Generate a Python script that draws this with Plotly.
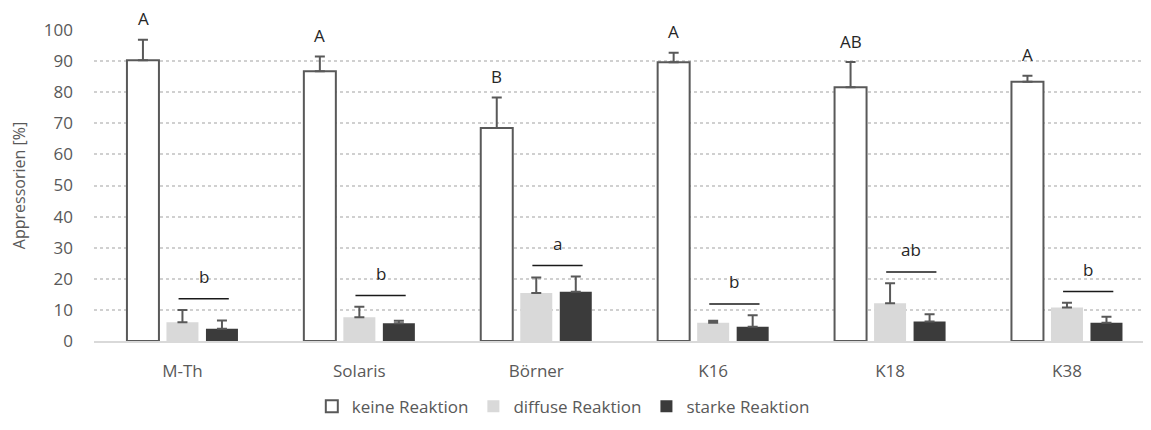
import plotly.graph_objects as go

categories = ["M-Th", "Solaris", "Börner", "K16", "K18", "K38"]
keine = [90.3, 86.7, 68.5, 89.6, 81.6, 83.4]
keine_err = [6.6, 4.8, 9.8, 3.1, 8.1, 1.9]
diffuse = [6.0, 7.6, 15.4, 5.9, 12.1, 10.8]
diffuse_err = [4.0, 3.4, 5.0, 0.6, 6.5, 1.5]
starke = [3.9, 5.7, 15.8, 4.6, 6.3, 5.9]
starke_err = [2.7, 0.8, 4.9, 3.7, 2.3, 1.9]
upper_letters = ["A", "A", "B", "A", "AB", "A"]
lower_letters = ["b", "b", "a", "b", "ab", "b"]
y_ticks = list(range(0, 101, 10))

FONT = "Open Sans"
GREY = "#595959"

fig = go.Figure()

def err(arr):
    return dict(type="data", array=arr, arrayminus=[0] * len(arr), symmetric=False,
                color=GREY, thickness=2, width=5)

fig.add_trace(go.Bar(name="keine Reaktion", x=categories, y=keine,
                     marker=dict(color="#ffffff", line=dict(color=GREY, width=2)),
                     error_y=err(keine_err)))
fig.add_trace(go.Bar(name="diffuse Reaktion", x=categories, y=diffuse,
                     marker=dict(color="#d9d9d9", line=dict(width=0)),
                     error_y=err(diffuse_err)))
fig.add_trace(go.Bar(name="starke Reaktion", x=categories, y=starke,
                     marker=dict(color="#3b3b3b", line=dict(width=0)),
                     error_y=err(starke_err)))

annotations = []
shapes = []
for i, cat in enumerate(categories):
    annotations.append(dict(x=i - 0.223, y=keine[i] + keine_err[i], xref="x", yref="y",
                            text=upper_letters[i], showarrow=False, yanchor="middle",
                            yshift=21, font=dict(family=FONT, size=17, color="#262626")))
    top = max(diffuse[i] + diffuse_err[i], starke[i] + starke_err[i])
    line_y = top + 3.6
    cx = i + 0.12
    shapes.append(dict(type="line", xref="x", yref="y", x0=cx - 0.142, x1=cx + 0.142,
                       y0=line_y, y1=line_y, line=dict(color="#1a1a1a", width=1.5)))
    annotations.append(dict(x=cx, y=line_y, xref="x", yref="y", text=lower_letters[i],
                            showarrow=False, yanchor="middle", yshift=22,
                            font=dict(family=FONT, size=17, color="#262626")))

fig.update_layout(
    width=1143, height=414,
    margin=dict(l=86, r=0, t=22, b=81, autoexpand=False),
    paper_bgcolor="white", plot_bgcolor="white",
    barmode="group", bargap=0.33, bargroupgap=0.19,
    font=dict(family=FONT, size=17, color=GREY),
    showlegend=True,
    legend=dict(orientation="h", x=0.444, xanchor="center", y=-0.153, yanchor="top",
                font=dict(family=FONT, size=17, color=GREY), traceorder="normal",
                itemwidth=30, tracegroupgap=0),
    annotations=annotations, shapes=shapes,
    xaxis=dict(range=[-0.5, 5.475], showgrid=False, showline=True, linecolor="#d9d9d9",
               linewidth=2, ticks="", tickfont=dict(family=FONT, size=17, color=GREY),
               ticklabelstandoff=14, fixedrange=True),
    yaxis=dict(range=[0, 100], tickvals=y_ticks, showgrid=True, gridcolor="#d0d0d0",
               griddash="dot", gridwidth=1.5, zeroline=False, showline=False, ticks="",
               tickfont=dict(family=FONT, size=17, color=GREY), ticklabelstandoff=20,
               title=dict(text="Appressorien [%]", font=dict(family=FONT, size=16, color=GREY),
                          standoff=16)),
)

fig.write_html("out.html")
